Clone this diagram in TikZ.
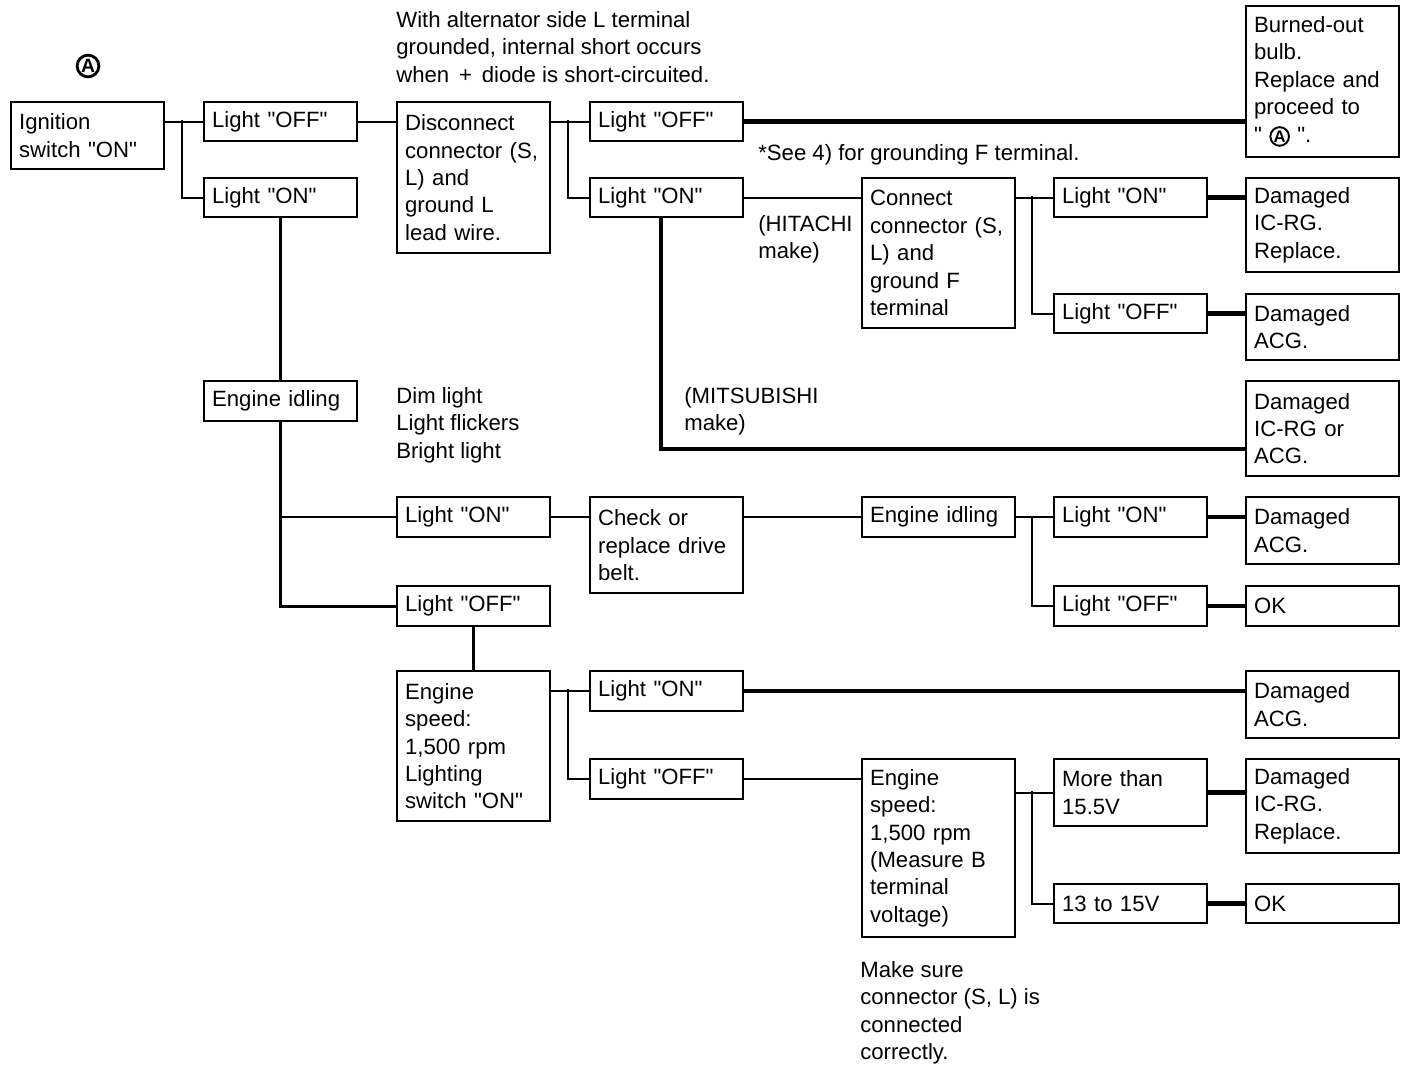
\documentclass[tikz,border=0pt]{standalone}
\usepackage{fontspec}
\setmainfont{Liberation Sans}
\usetikzlibrary{calc}
\usetikzlibrary{positioning}

\newcommand{\circA}{\tikz[baseline=(ca.base)] \node[circle, draw, line width=1.1pt, inner sep=0.4pt, minimum size=0pt, text width=, align=center, anchor=center, font=\bfseries\fontsize{9.5}{9.5}\selectfont] (ca) {A};}
\newcommand{\quoted}[1]{\textquotedbl#1\textquotedbl}

\begin{document}
\begin{tikzpicture}[x=0.02cm, y=-0.02cm,
  box/.style={draw, line width=1.3pt, anchor=north west, minimum width=3.06cm, text width=2.74cm, inner xsep=0.16cm, inner ysep=0pt, align=left, font=\fontsize{12.6}{15.6}\selectfont},
  tall/.style={minimum height=#1*0.02cm},
  note/.style={anchor=north west, inner sep=0pt, align=left, font=\fontsize{12.6}{15.6}\selectfont},
  wire/.style={line width=1.3pt},
  fat/.style={line width=2.5pt}]
\useasboundingbox (0,0) rectangle (1408,1068);

\node[circle, draw, line width=1.6pt, inner sep=0.5pt, font=\bfseries\fontsize{11}{11}\selectfont] (markA) at (88,66) {A};

\node[box, tall=67] (ign) at (10,101) {Ignition\\switch \quoted{ON}};
\node[box, tall=39] (off1) at (203,101) {Light \quoted{OFF}};
\node[box, tall=39] (on1) at (203,177) {Light \quoted{ON}};
\node[box, tall=40] (idle1) at (203,380) {Engine idling};

\node[box, tall=151] (disc) at (396,101) {Disconnect\\connector (S,\\L) and\\ground L\\lead wire.};
\node[box, tall=40] (on4) at (396,496) {Light \quoted{ON}};
\node[box, tall=40] (off4) at (396,585) {Light \quoted{OFF}};
\node[box, tall=150] (speed1) at (396,670) {Engine\\speed:\\1,500 rpm\\Lighting\\switch \quoted{ON}};

\node[box, tall=39] (off2) at (589,101) {Light \quoted{OFF}};
\node[box, tall=39] (on2) at (589,177) {Light \quoted{ON}};
\node[box, tall=96] (belt) at (589,496) {Check or\\replace drive\\belt.};
\node[box, tall=40] (on6) at (589,670) {Light \quoted{ON}};
\node[box, tall=40] (off6) at (589,758) {Light \quoted{OFF}};

\node[box, tall=150] (conn) at (861,177) {Connect\\connector (S,\\L) and\\ground F\\terminal};
\node[box, tall=40] (idle2) at (861,496) {Engine idling};
\node[box, tall=178] (speed2) at (861,758) {Engine\\speed:\\1,500 rpm\\(Measure B\\terminal\\voltage)};

\node[box, tall=39] (on3) at (1053,177) {Light \quoted{ON}};
\node[box, tall=39] (off3) at (1053,293) {Light \quoted{OFF}};
\node[box, tall=40] (on5) at (1053,496) {Light \quoted{ON}};
\node[box, tall=40] (off5) at (1053,585) {Light \quoted{OFF}};
\node[box, tall=67] (more) at (1053,758) {More than\\15.5V};
\node[box, tall=39] (v13) at (1053,883) {13 to 15V};

\node[box, tall=151] (burn) at (1245,5) {Burned-out\\bulb.\\Replace and\\proceed to\\\quoted{ \circA\ }.};
\node[box, tall=94] (dam1) at (1245,177) {Damaged\\IC-RG.\\Replace.};
\node[box, tall=66] (dam2) at (1245,293) {Damaged\\ACG.};
\node[box, tall=95] (icacg) at (1245,380) {Damaged\\IC-RG or\\ACG.};
\node[box, tall=67] (dam3) at (1245,496) {Damaged\\ACG.};
\node[box, tall=40] (ok1) at (1245,585) {OK};
\node[box, tall=67] (dam4) at (1245,670) {Damaged\\ACG.};
\node[box, tall=94] (dam5) at (1245,758) {Damaged\\IC-RG.\\Replace.};
\node[box, tall=39] (ok2) at (1245,883) {OK};

\node[note] (short) at (396,11) {With alternator side L terminal\\grounded, internal short occurs\\when \,+\, diode is short-circuited.};
\node[note] (see4) at (758,144) {*See 4) for grounding F terminal.};
\node[note] (hitachi) at (758,215) {(HITACHI\\make)};
\node[note] (mitsu) at (684,387) {(MITSUBISHI\\make)};
\node[note] (dim) at (396,387) {Dim light\\Light flickers\\Bright light};
\node[note] (sure) at (860,961) {Make sure\\connector (S, L) is\\connected\\correctly.};

\coordinate (j1) at (182,120);
\coordinate (j2) at (568,120);
\coordinate (j3) at (1032,196);
\coordinate (j4) at (568,689);
\coordinate (j5) at (1032,516);
\coordinate (j6) at (1032,791);
\coordinate (k1) at (661,449);

\draw[wire] (off1.west -| ign.east) -- (off1.west);
\draw[wire] (j1) |- (on1.west);
\draw[wire] (off1.east) -- (off1.east -| disc.west);
\draw[wire] (off2.west -| disc.east) -- (off2.west);
\draw[wire] (j2) |- (on2.west);
\draw[fat] (off2.east) -- (off2.east -| burn.west);
\draw[wire] (on2.east) -- (on2.east -| conn.west);
\draw[fat] (on2.south -| k1) -- (k1) -- (k1 -| icacg.west);
\draw[wire] (on3.west -| conn.east) -- (on3.west);
\draw[wire] (j3) |- (off3.west);
\draw[fat] (on3.east) -- (on3.east -| dam1.west);
\draw[fat] (off3.east) -- (off3.east -| dam2.west);

\draw[wire] (on1.south) -- (idle1.north);
\draw[line width=1.7pt] (idle1.south) |- (off4.west);
\draw[wire] (on4.west -| idle1.south) -- (on4.west);
\draw[wire] (on4.east) -- (on4.east -| belt.west);
\draw[wire] (idle2.west -| belt.east) -- (idle2.west);
\draw[wire] (on5.west -| idle2.east) -- (on5.west);
\draw[wire] (j5) |- (off5.west);
\draw[fat] (on5.east) -- (on5.east -| dam3.west);
\draw[fat] (off5.east) -- (ok1.west);

\draw[wire] (off4.south) -- (speed1.north);
\draw[wire] (on6.west -| speed1.east) -- (on6.west);
\draw[wire] (j4) |- (off6.west);
\draw[fat] (on6.east) -- (on6.east -| dam4.west);
\draw[wire] (off6.east) -- (off6.east -| speed2.west);
\draw[wire] (more.west -| speed2.east) -- (more.west);
\draw[wire] (j6) |- (v13.west);
\draw[fat] (more.east) -- (more.east -| dam5.west);
\draw[fat] (v13.east) -- (ok2.west);

\end{tikzpicture}
\end{document}
